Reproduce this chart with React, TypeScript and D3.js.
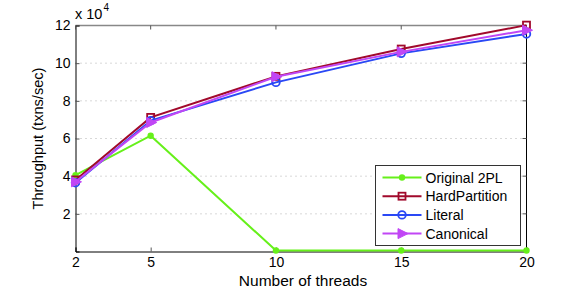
import React, { useEffect, useRef } from 'react';
import * as d3 from 'd3';

const threads = [2, 5, 10, 15, 20];
const original2PL = [4.05, 6.15, 0.05, 0.05, 0.05];
const hardPartition = [3.8, 7.12, 9.3, 10.75, 12.02];
const literal = [3.65, 6.95, 8.98, 10.52, 11.55];
const canonical = [3.7, 6.85, 9.28, 10.6, 11.75];
const yTicks = [2, 4, 6, 8, 10, 12];
const seriesNames = ['Original 2PL', 'HardPartition', 'Literal', 'Canonical'];

const App = () => {
  const svgRef = useRef<SVGSVGElement>(null);

  useEffect(() => {
    const svg = d3.select(svgRef.current);
    svg.selectAll('*').remove();

    const width = 581;
    const height = 292;
    const margin = { top: 25.5, right: 54.5, bottom: 40.5, left: 75.5 };
    const font = 'Liberation Sans, Arial, sans-serif';

    const x = d3.scaleLinear().domain([2, 20]).range([margin.left, width - margin.right]);
    const y = d3.scaleLinear().domain([0, 12]).range([height - margin.bottom, margin.top]);

    const series = [
      { name: seriesNames[0], values: original2PL, color: '#66f01a', marker: 'dot' },
      { name: seriesNames[1], values: hardPartition, color: '#a1092b', marker: 'square' },
      { name: seriesNames[2], values: literal, color: '#2a48f5', marker: 'circle' },
      { name: seriesNames[3], values: canonical, color: '#c146f5', marker: 'triangle' },
    ];

    // horizontal dotted grid
    svg.append('g')
      .selectAll('line')
      .data(yTicks)
      .join('line')
      .attr('x1', x(2))
      .attr('x2', x(20))
      .attr('y1', d => y(d))
      .attr('y2', d => y(d))
      .attr('stroke', '#b0b0b0')
      .attr('stroke-width', 1)
      .attr('stroke-dasharray', '1,4');

    // box
    svg.append('line')
      .attr('x1', x(2)).attr('x2', x(20))
      .attr('y1', y(12)).attr('y2', y(12))
      .attr('stroke', '#888').attr('stroke-width', 1.5);
    svg.append('line')
      .attr('x1', x(20)).attr('x2', x(20))
      .attr('y1', y(12)).attr('y2', y(0))
      .attr('stroke', '#000').attr('stroke-width', 1);

    // axes
    const xAxis = svg.append('g')
      .attr('transform', `translate(0,${y(0)})`)
      .call(d3.axisBottom(x).tickValues(threads).tickSize(-4).tickPadding(6).tickFormat(d3.format('d')));
    const yAxis = svg.append('g')
      .attr('transform', `translate(${x(2)},0)`)
      .call(d3.axisLeft(y).tickValues(yTicks).tickSize(-4).tickPadding(5));
    [xAxis, yAxis].forEach(g => {
      g.select('.domain').attr('stroke', '#000');
      g.selectAll('.tick line').attr('stroke', '#555');
      g.selectAll('text').attr('fill', '#000').style('font-size', '14px').style('font-family', font);
    });

    // top and right ticks
    svg.append('g').selectAll('line').data(threads).join('line')
      .attr('x1', d => x(d)).attr('x2', d => x(d))
      .attr('y1', y(12)).attr('y2', y(12) + 4)
      .attr('stroke', '#555');
    svg.append('g').selectAll('line').data(yTicks).join('line')
      .attr('x1', x(20) - 4).attr('x2', x(20))
      .attr('y1', d => y(d)).attr('y2', d => y(d))
      .attr('stroke', '#555');

    // exponent label
    const expo = svg.append('text')
      .attr('x', x(2) - 0.5)
      .attr('y', 19)
      .style('font-size', '14.5px')
      .style('font-family', font);
    expo.append('tspan').text('x 10');
    expo.append('tspan').attr('dx', 1).attr('dy', -8).style('font-size', '10px').text('4');

    // axis labels
    svg.append('text')
      .attr('transform', `translate(43,${(y(0) + y(12)) / 2}) rotate(-90)`)
      .attr('text-anchor', 'middle')
      .style('font-size', '14.6px')
      .style('font-family', font)
      .text('Throughput (txns/sec)');
    svg.append('text')
      .attr('x', (x(2) + x(20)) / 2 + 2)
      .attr('y', 286)
      .attr('text-anchor', 'middle')
      .style('font-size', '15.5px')
      .style('font-family', font)
      .text('Number of threads');

    const drawMarker = (g: any, kind: string, color: string, cx: number, cy: number) => {
      if (kind === 'dot') {
        g.append('circle').attr('cx', cx).attr('cy', cy).attr('r', 3.2).attr('fill', color);
      } else if (kind === 'square') {
        g.append('rect').attr('x', cx - 3.5).attr('y', cy - 3.5).attr('width', 7).attr('height', 7)
          .attr('fill', 'none').attr('stroke', color).attr('stroke-width', 1.8);
      } else if (kind === 'circle') {
        g.append('circle').attr('cx', cx).attr('cy', cy).attr('r', 3.8)
          .attr('fill', 'none').attr('stroke', color).attr('stroke-width', 1.8);
      } else {
        g.append('path')
          .attr('d', `M${cx - 4},${cy - 5}L${cx + 6},${cy}L${cx - 4},${cy + 5}Z`)
          .attr('fill', color).attr('stroke', color).attr('stroke-width', 1);
      }
    };

    const line = d3.line<number>()
      .x((_, i) => x(threads[i]))
      .y(d => y(d));

    series.forEach(s => {
      const g = svg.append('g');
      g.append('path')
        .datum(s.values)
        .attr('d', line)
        .attr('fill', 'none')
        .attr('stroke', s.color)
        .attr('stroke-width', 2);
      s.values.forEach((v, i) => drawMarker(g, s.marker, s.color, x(threads[i]), y(v)));
    });

    // legend
    const lg = svg.append('g').attr('transform', 'translate(375.5,165.5)');
    lg.append('rect')
      .attr('width', 145).attr('height', 80)
      .attr('fill', '#fff').attr('stroke', '#333').attr('stroke-width', 1);
    series.forEach((s, i) => {
      const ly = 12 + i * 18.7;
      lg.append('line')
        .attr('x1', 7).attr('x2', 46).attr('y1', ly).attr('y2', ly)
        .attr('stroke', s.color).attr('stroke-width', 2);
      drawMarker(lg, s.marker, s.color, 26.5, ly);
      lg.append('text')
        .attr('x', 50).attr('y', ly + 5)
        .style('font-size', '14px')
        .style('font-family', font)
        .text(s.name);
    });
  }, []);

  return <svg ref={svgRef} width="581" height="292" style={{ position: 'absolute', left: 0, top: 0 }}></svg>;
};

export default App;
